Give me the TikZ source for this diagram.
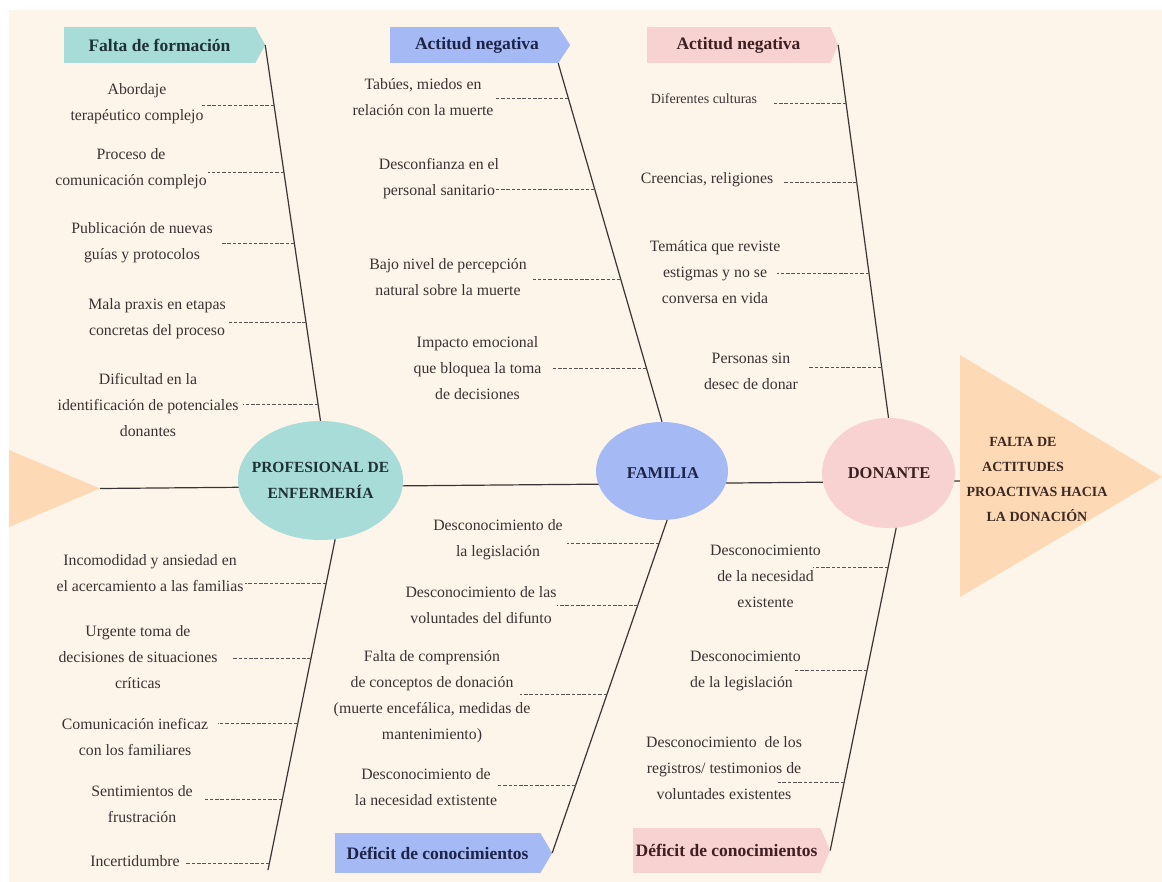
\documentclass[tikz,border=0pt]{standalone}
\usepackage{fontspec}
\setmainfont{Liberation Serif}
\usetikzlibrary{shapes.geometric,calc}

\definecolor{bgcream}{RGB}{253,245,233}
\definecolor{tealfill}{RGB}{168,220,216}
\definecolor{bluefill}{RGB}{165,185,245}
\definecolor{pinkfill}{RGB}{248,210,208}
\definecolor{orangefill}{RGB}{253,217,181}
\definecolor{bodyink}{RGB}{58,50,50}
\definecolor{lineink}{RGB}{58,52,52}
\definecolor{dashink}{RGB}{90,82,82}
\definecolor{tealink}{RGB}{30,50,54}
\definecolor{blueink}{RGB}{28,36,72}
\definecolor{pinkink}{RGB}{62,32,34}
\definecolor{goalink}{RGB}{60,42,34}

\begin{document}
\begin{tikzpicture}[x=1pt,y=-1pt,
  bone/.style={draw=lineink,line width=1.2pt},
  spineline/.style={draw=lineink,line width=1.2pt},
  cause/.style={draw=dashink,line width=0.9pt,dash pattern=on 3.5pt off 1.8pt},
  item/.style={text=bodyink,align=center,inner sep=0pt,font=\fontsize{15.8}{26}\selectfont},
  banner/.style={inner sep=0pt,font=\bfseries\fontsize{17.5}{20}\selectfont},
  hub/.style={ellipse,inner sep=0pt},
  hubtext/.style={align=center,inner sep=0pt,font=\bfseries\fontsize{15.5}{26}\selectfont},
  goaltext/.style={align=center,inner sep=0pt,text=goalink,font=\bfseries\fontsize{14}{25}\selectfont},
]
\useasboundingbox (0,0) rectangle (1162,882);
\fill[white] (0,0) rectangle (1162,882);
\fill[bgcream] (9,10) rectangle (1162,882);

% tail, spine and head
\coordinate (spL) at (100,488.5);
\coordinate (spR) at (961,481);
\fill[orangefill] (9,450) -- (spL) -- (9,527) -- cycle;
\draw[spineline] (spL) -- (spR);
\fill[orangefill] (960,355) -- (1162,477) -- (960,597) -- cycle;
\node[goaltext] (goal) at (1037,479)
  {FALTA DE\rule{28pt}{0pt}\\ACTITUDES\rule{28pt}{0pt}\\PROACTIVAS HACIA\\LA DONACIÓN};

% the three groups on the spine
\node[hub,fill=tealfill,minimum width=165pt,minimum height=119pt] (prof) at (320.5,480.5) {};
\node[hubtext,text=tealink] (proft) at (prof) {PROFESIONAL DE\\ENFERMERÍA};
\node[hub,fill=bluefill,minimum width=132pt,minimum height=98pt] (fam) at (662,471) {};
\node[hubtext,text=blueink,font=\bfseries\fontsize{16.5}{20}\selectfont] (famt) at (663,473) {FAMILIA};
\node[hub,fill=pinkfill,minimum width=133pt,minimum height=110pt] (don) at (888.5,473) {};
\node[hubtext,text=pinkink,font=\bfseries\fontsize{16.5}{20}\selectfont] (dont) at (889,473) {DONANTE};

% category banners
\node[banner,fill=tealfill,text=tealink,minimum width=191pt,minimum height=36pt] (fA) at (159.5,45) {Falta de formación};
\coordinate (fAtip) at ($(fA.east)+(10,0)$);
\fill[tealfill] (fA.north east) -- (fAtip) -- (fA.south east) -- cycle;

\node[banner,fill=bluefill,text=blueink,minimum width=168pt,minimum height=36pt] (fB) at (474,45) {\hspace*{6pt}Actitud negativa};
\coordinate (fBtip) at ($(fB.east)+(12,0)$);
\fill[bluefill] (fB.north east) -- (fBtip) -- (fB.south east) -- cycle;

\node[banner,fill=pinkfill,text=pinkink,minimum width=183pt,minimum height=36pt] (fC) at (738.5,45) {Actitud negativa};
\coordinate (fCtip) at ($(fC.east)+(8,0)$);
\fill[pinkfill] (fC.north east) -- (fCtip) -- (fC.south east) -- cycle;

\node[banner,fill=bluefill,text=blueink,minimum width=205pt,minimum height=40pt] (fD) at (437.5,853) {Déficit de conocimientos};
\coordinate (fDtip) at ($(fD.east)+(12,0)$);
\fill[bluefill] (fD.north east) -- (fDtip) -- (fD.south east) -- cycle;

\node[banner,fill=pinkfill,text=pinkink,minimum width=187pt,minimum height=45pt] (fE) at (726.5,850.5) {Déficit de conocimientos};
\coordinate (fEtip) at ($(fE.east)+(10,0)$);
\fill[pinkfill] (fE.north east) -- (fEtip) -- (fE.south east) -- cycle;

% bones
\coordinate (dEnd) at (268,870);
\draw[bone] (fAtip) -- (prof.north);
\draw[bone] (fB.south east) -- (fam.north);
\draw[bone] (fCtip) -- (don.north);
\draw[bone] (prof.-76) -- (dEnd);
\draw[bone] (fam.-84) -- (fDtip);
\draw[bone] (don.-82) -- (fEtip);

% attachment points of the causes
\path (fAtip) -- (prof.north) coordinate[pos=0.162] (a1) coordinate[pos=0.340] (a2)
  coordinate[pos=0.529] (a3) coordinate[pos=0.737] (a4) coordinate[pos=0.957] (a5);
\path (fB.south east) -- (fam.north) coordinate[pos=0.0975] (b1) coordinate[pos=0.351] (b2)
  coordinate[pos=0.602] (b3) coordinate[pos=0.850] (b4);
\path (fCtip) -- (don.north) coordinate[pos=0.158] (c1) coordinate[pos=0.370] (c2)
  coordinate[pos=0.614] (c3) coordinate[pos=0.866] (c4);
\path (prof.-76) -- (dEnd) coordinate[pos=0.134] (d1) coordinate[pos=0.361] (d2)
  coordinate[pos=0.558] (d3) coordinate[pos=0.788] (d4) coordinate[pos=0.979] (d5);
\path (fam.-84) -- (fDtip) coordinate[pos=0.069] (e1) coordinate[pos=0.255] (e2)
  coordinate[pos=0.523] (e3) coordinate[pos=0.796] (e4);
\path (don.-82) -- (fEtip) coordinate[pos=0.122] (g1) coordinate[pos=0.441] (g2)
  coordinate[pos=0.788] (g3);

% Falta de formación
\node[item] (t1) at (137,104) {Abordaje\\terapéutico complejo};
\node[item] (t2) at (131,169) {Proceso de\\comunicación complejo};
\node[item] (t3) at (142,243) {Publicación de nuevas\\guías y protocolos};
\node[item] (t4) at (157,319) {Mala praxis en etapas\\concretas del proceso};
\node[item] (t5) at (148,405.5) {Dificultad en la\\identificación de potenciales\\donantes};
\draw[cause] (a1) -- ++(-72,0);
\draw[cause] (a2) -- ++(-76,0);
\draw[cause] (a3) -- ++(-74,0);
\draw[cause] (a4) -- ++(-77,0);
\draw[cause] (a5) -- ++(-75,0);

% Actitud negativa (familia)
\node[item] (u1) at (423,97.5) {Tabúes, miedos en\\relación con la muerte};
\node[item] (u2) at (439,179) {Desconfianza en el\\personal sanitario};
\node[item] (u3) at (448,277.5) {Bajo nivel de percepción\\natural sobre la muerte};
\node[item] (u4) at (477.5,368.5) {Impacto emocional\\que bloquea la toma\\de decisiones};
\draw[cause] (b1) -- ++(-74,0);
\draw[cause] (b2) -- ++(-98.5,0);
\draw[cause] (b3) -- ++(-87.6,0);
\draw[cause] (b4) -- ++(-93.4,0);

% Actitud negativa (donante)
\node[item,font=\fontsize{14}{26}\selectfont] (v1) at (704,99) {Diferentes culturas};
\node[item] (v2) at (707,180) {Creencias, religiones};
\node[item] (v3) at (715,272) {Temática que reviste\\estigmas y no se\\conversa en vida};
\node[item] (v4) at (751,371) {Personas sin\\desec de donar};
\draw[cause] (c1) -- ++(-74,0);
\draw[cause] (c2) -- ++(-73.7,0);
\draw[cause] (c3) -- ++(-92,0);
\draw[cause] (c4) -- ++(-73.7,0);

% profesional de enfermería, lower bone
\node[item] (w1) at (150,573) {Incomodidad y ansiedad en\\el acercamiento a las familias};
\node[item] (w2) at (138,657.5) {Urgente toma de\\decisiones de situaciones\\críticas};
\node[item] (w3) at (135,737) {Comunicación ineficaz\\con los familiares};
\node[item] (w4) at (142,804) {Sentimientos de\\frustración};
\node[item] (w5) at (135,861) {Incertidumbre};
\draw[cause] (d1) -- ++(-81,0);
\draw[cause] (d2) -- ++(-78,0);
\draw[cause] (d3) -- ++(-80,0);
\draw[cause] (d4) -- ++(-79,0);
\draw[cause] (d5) -- ++(-84,0);

% Déficit de conocimientos (familia)
\node[item] (x1) at (498,540) {Desconocimiento de\\la legislación};
\node[item] (x2) at (481,605) {Desconocimiento de las\\voluntades del difunto};
\node[item] (x3) at (432,697) {Falta de comprensión\\de conceptos de donación\\(muerte encefálica, medidas de\\mantenimiento)};
\node[item] (x4) at (426,787.5) {Desconocimiento de\\la necesidad extistente};
\draw[cause] (e1) -- ++(-92,0);
\draw[cause] (e2) -- ++(-80.6,0);
\draw[cause] (e3) -- ++(-87,0);
\draw[cause] (e4) -- ++(-78.5,0);

% Déficit de conocimientos (donante)
\node[item] (y1) at (765.5,576) {Desconocimiento\\de la necesidad\\existente};
\node[item,align=left,anchor=west] (y2) at (690,671) {Desconocimiento\\de la legislación};
\node[item] (y3) at (724,768) {Desconocimiento\ \ de los\\registros/ testimonios de\\voluntades existentes};
\draw[cause] (g1) -- ++(-75,0);
\draw[cause] (g2) -- ++(-72,0);
\draw[cause] (g3) -- ++(-66,0);
\end{tikzpicture}
\end{document}
